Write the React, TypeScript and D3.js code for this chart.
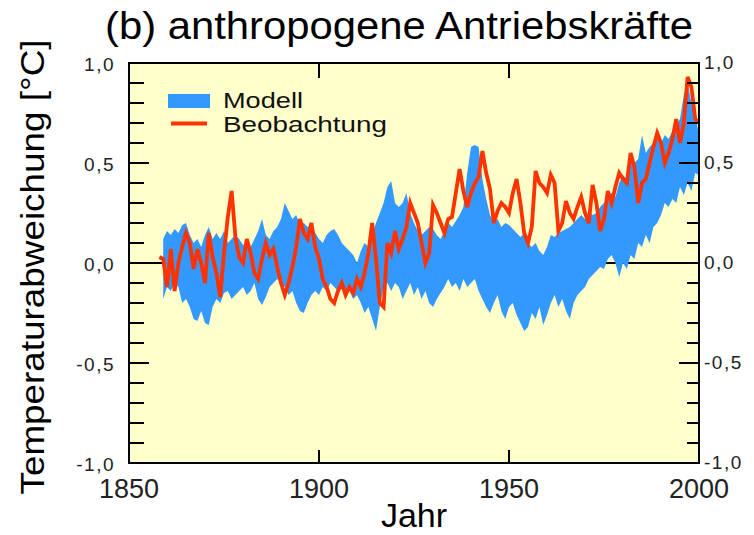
import React from "react";
import * as d3 from "d3";

const W = 754;
const H = 535;
const M = { left: 129, right: 699, top: 63, bottom: 463 };

const FONT = "'Liberation Sans', Arial, Helvetica, sans-serif";
const BG = "#FFFFCC";
const BLUE = "#3399FF";
const RED = "#FF3300";

const titleText = "(b) anthropogene Antriebskräfte";
const yAxisTitle = "Temperaturabweichung [°C]";
const xAxisTitle = "Jahr";
const legendModel = "Modell";
const legendObs = "Beobachtung";

const xDomain = [1850, 2000];
const yDomain = [-1, 1];
const xTickValues = [1850, 1900, 1950, 2000];
const xTickLabels = ["1850", "1900", "1950", "2000"];
const yMajorValues = [-1, -0.5, 0, 0.5, 1];
const yMajorLabels = ["-1,0", "-0,5", "0,0", "0,5", "1,0"];
const yMinorValues = [-0.9, -0.8, -0.7, -0.6, -0.4, -0.3, -0.2, -0.1, 0.1, 0.2, 0.3, 0.4, 0.6, 0.7, 0.8, 0.9];

// Observations (Beobachtung), annual, 1858-2000
const obsStartYear = 1858;
const observed = [
  0.03, 0.02, -0.12, 0.07, -0.14, 0.0, 0.08, 0.15, 0.1, -0.03,
  0.07, 0.0, -0.1, 0.15, 0.03, -0.05, -0.17, 0.05, 0.23, 0.36,
  0.13, 0.03, 0.0, 0.12, 0.05, -0.05, -0.08, 0.02, 0.1, 0.04,
  0.07, -0.02, -0.1, -0.16, -0.1, -0.02, 0.08, 0.22, 0.15, 0.12,
  0.2, 0.08, 0.02, -0.08, -0.12, -0.18, -0.2, -0.14, -0.1, -0.16,
  -0.12, -0.15, -0.08, -0.12, -0.05, 0.05, 0.2, 0.02, -0.2, -0.22,
  0.1, 0.05, 0.16, 0.07, 0.12, 0.18, 0.3, 0.25, 0.2, 0.1,
  0.0, 0.05, 0.29, 0.25, 0.2, 0.15, 0.22, 0.23, 0.35, 0.47,
  0.36, 0.28, 0.35, 0.4, 0.43, 0.56, 0.45, 0.37, 0.2, 0.26,
  0.3, 0.28, 0.25, 0.35, 0.42, 0.3, 0.15, 0.1, 0.18, 0.46,
  0.4, 0.38, 0.35, 0.44, 0.4, 0.16, 0.2, 0.31, 0.25, 0.22,
  0.28, 0.33, 0.25, 0.2, 0.39, 0.3, 0.16, 0.22, 0.36, 0.3,
  0.38, 0.45, 0.42, 0.4, 0.55, 0.48, 0.3, 0.4, 0.42, 0.5,
  0.58, 0.65, 0.6, 0.5, 0.55, 0.62, 0.72, 0.6, 0.7, 0.93,
  0.88, 0.72, 0.7,
];

// Model ensemble range (Modell), annual, 1859-2000
const modelStartYear = 1859;
const modelUpper = [
  0.12, 0.16, 0.14, 0.17, 0.15, 0.19, 0.2, 0.14, 0.1, 0.12,
  0.08, 0.14, 0.18, 0.12, 0.15, 0.12, 0.16, 0.1, 0.12, 0.14,
  0.12, 0.09, 0.1, 0.08, 0.12, 0.16, 0.22, 0.14, 0.12, 0.16,
  0.18, 0.22, 0.3, 0.26, 0.22, 0.24, 0.19, 0.2, 0.18, 0.19,
  0.15, 0.12, 0.1, 0.14, 0.16, 0.17, 0.14, 0.1, 0.08, 0.06,
  0.04, 0.0, 0.06, 0.1, 0.08, 0.14, 0.2, 0.25, 0.3, 0.38,
  0.41, 0.3, 0.28, 0.3, 0.35, 0.25, 0.2, 0.16, 0.14, 0.16,
  0.18, 0.17, 0.14, 0.12, 0.16, 0.2, 0.18, 0.21, 0.24, 0.28,
  0.45, 0.58, 0.59, 0.58, 0.42, 0.32, 0.24, 0.2, 0.22, 0.18,
  0.2, 0.19, 0.17, 0.15, 0.13, 0.15, 0.1, 0.08, 0.1, 0.06,
  0.04, 0.08, 0.14, 0.13, 0.15, 0.16, 0.17, 0.18, 0.2, 0.22,
  0.24, 0.22, 0.26, 0.24, 0.25, 0.28, 0.3, 0.34, 0.35, 0.33,
  0.4, 0.44, 0.42, 0.55, 0.5, 0.52, 0.64, 0.55, 0.58, 0.6,
  0.62, 0.6, 0.64, 0.62, 0.66, 0.69, 0.72, 0.84, 0.9, 0.8,
  0.74, 0.64,
];
const modelLower = [
  -0.18, -0.12, -0.14, -0.1, -0.12, -0.2, -0.18, -0.22, -0.28, -0.29,
  -0.24, -0.3, -0.31, -0.22, -0.18, -0.2, -0.15, -0.14, -0.18, -0.16,
  -0.14, -0.12, -0.16, -0.14, -0.1, -0.18, -0.21, -0.17, -0.12, -0.1,
  -0.08, -0.1, -0.12, -0.16, -0.14, -0.2, -0.24, -0.25, -0.2, -0.16,
  -0.14, -0.16, -0.12, -0.14, -0.1, -0.12, -0.14, -0.12, -0.16, -0.14,
  -0.18, -0.16, -0.2, -0.25, -0.22, -0.28, -0.34, -0.22, -0.12, -0.1,
  -0.14, -0.1, -0.12, -0.18, -0.14, -0.1, -0.16, -0.12, -0.18, -0.14,
  -0.2, -0.22, -0.18, -0.15, -0.12, -0.08, -0.12, -0.1, -0.14, -0.08,
  -0.12, -0.1, -0.08, -0.14, -0.18, -0.22, -0.25, -0.2, -0.16, -0.24,
  -0.28, -0.22, -0.2, -0.26, -0.3, -0.34, -0.32, -0.25, -0.28, -0.22,
  -0.31, -0.26, -0.2, -0.16, -0.22, -0.18, -0.24, -0.28, -0.2, -0.16,
  -0.14, -0.12, -0.08, -0.06, -0.04, -0.02, -0.03, 0.02, 0.04, 0.0,
  -0.07, 0.0, -0.03, 0.04, 0.02, 0.1, 0.08, 0.14, 0.1, 0.18,
  0.2, 0.24, 0.3, 0.28, 0.32, 0.3, 0.38, 0.34, 0.4, 0.36,
  0.45, 0.44,
];

type BandPt = { year: number; hi: number; lo: number };

export default function App() {
  const x = d3.scaleLinear().domain(xDomain).range([M.left, M.right]);
  const y = d3.scaleLinear().domain(yDomain).range([M.bottom, M.top]);

  const obsPts: [number, number][] = observed.map((v, i) => [obsStartYear + i, v]);
  const band: BandPt[] = modelUpper.map((u, i) => ({ year: modelStartYear + i, hi: u, lo: modelLower[i] }));

  const areaGen = d3
    .area<BandPt>()
    .x((d) => x(d.year))
    .y0((d) => y(d.lo))
    .y1((d) => y(d.hi));
  const lineGen = d3
    .line<[number, number]>()
    .x((d) => x(d[0]))
    .y((d) => y(d[1]));

  const innerTickYears = xTickValues.filter((v) => v !== xDomain[0] && v !== xDomain[1]);

  return (
    <svg
      width={W}
      height={H}
      style={{ position: "absolute", left: 0, top: 0, background: "#fff" }}
      fontFamily={FONT}
    >
      <rect x={0} y={0} width={W} height={H} fill="#fff" />
      {/* Title */}
      <text x={399} y={39} fontSize={38} textAnchor="middle" textLength={588} lengthAdjust="spacingAndGlyphs" fill="#000">
        {titleText}
      </text>
      {/* Y axis title */}
      <text
        transform={`translate(44,267) rotate(-90)`}
        fontSize={33}
        textAnchor="middle"
        textLength={455}
        lengthAdjust="spacingAndGlyphs"
        fill="#000"
      >
        {yAxisTitle}
      </text>
      {/* X axis title */}
      <text x={414} y={527} fontSize={34} textAnchor="middle" fill="#000">
        {xAxisTitle}
      </text>

      {/* Plot background */}
      <rect x={M.left} y={M.top} width={M.right - M.left} height={M.bottom - M.top} fill={BG} />
      {/* zero line */}
      <line x1={M.left} x2={M.right} y1={y(0)} y2={y(0)} stroke="#000" strokeWidth={2} />

      {/* Model band */}
      <path d={areaGen(band) || ""} fill={BLUE} stroke="none" />
      {/* Observation line */}
      <path d={lineGen(obsPts) || ""} fill="none" stroke={RED} strokeWidth={3.8} strokeLinejoin="miter" />

      {/* Legend */}
      <rect x={168} y={94} width={42} height={14} fill={BLUE} />
      <line x1={171} x2={207} y1={123.5} y2={123.5} stroke={RED} strokeWidth={4} />
      <text x={223} y={107.5} fontSize={22} textLength={80} lengthAdjust="spacingAndGlyphs" fill="#111">
        {legendModel}
      </text>
      <text x={223} y={132} fontSize={22} textLength={164} lengthAdjust="spacingAndGlyphs" fill="#111">
        {legendObs}
      </text>

      {/* Y ticks left & right */}
      {yMinorValues.map((v) => (
        <g key={"mn" + v}>
          <line x1={M.left} x2={M.left + 15} y1={y(v)} y2={y(v)} stroke="#000" strokeWidth={2} />
          <line x1={M.right} x2={M.right - 12} y1={y(v)} y2={y(v)} stroke="#000" strokeWidth={2} />
        </g>
      ))}
      {yMajorValues.map((v) => (
        <g key={"mj" + v}>
          <line x1={M.left} x2={M.left + 20} y1={y(v)} y2={y(v)} stroke="#000" strokeWidth={2} />
          <line x1={M.right} x2={M.right - 20} y1={y(v)} y2={y(v)} stroke="#000" strokeWidth={2} />
        </g>
      ))}
      {yMajorValues.map((v, i) => (
        <g key={"yl" + v}>
          <text x={115} y={y(v) + 8} fontSize={19} letterSpacing={1.5} textAnchor="end" fill="#222">
            {yMajorLabels[i]}
          </text>
          <text x={704} y={y(v) + 6} fontSize={19} letterSpacing={1.5} textAnchor="start" fill="#222">
            {yMajorLabels[i]}
          </text>
        </g>
      ))}

      {/* X ticks top & bottom */}
      {innerTickYears.map((v) => (
        <g key={"xt" + v}>
          <line x1={x(v)} x2={x(v)} y1={M.top} y2={M.top + 15} stroke="#000" strokeWidth={2} />
          <line x1={x(v)} x2={x(v)} y1={M.bottom} y2={M.bottom - 13} stroke="#000" strokeWidth={2} />
        </g>
      ))}
      {xTickValues.map((v, i) => (
        <text key={"xl" + v} x={x(v)} y={498} fontSize={27} textAnchor="middle" textLength={60} lengthAdjust="spacing" fill="#222">
          {xTickLabels[i]}
        </text>
      ))}

      {/* Frame */}
      <rect
        x={M.left}
        y={M.top}
        width={M.right - M.left}
        height={M.bottom - M.top}
        fill="none"
        stroke="#000"
        strokeWidth={2}
      />
    </svg>
  );
}
